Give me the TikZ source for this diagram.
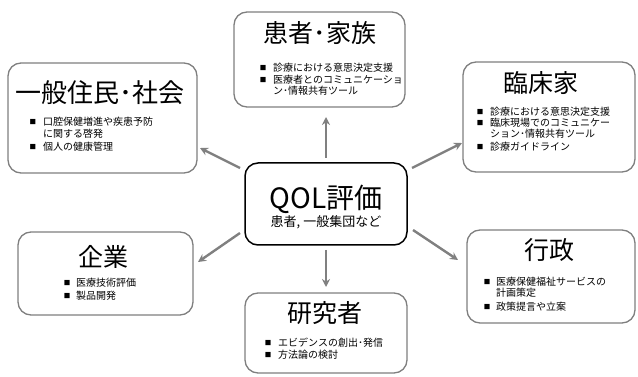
\documentclass[tikz,border=0pt]{standalone}
\usepackage{fontspec}
\setmainfont{Noto Sans CJK JP}
\usetikzlibrary{arrows.meta}
\definecolor{boxgray}{HTML}{7F7F7F}
\definecolor{arrgray}{HTML}{808080}
\tikzset{
  box/.style={draw=boxgray, line width=1.3pt, rounded corners=13pt, fill=white},
  mainbox/.style={draw=black, line width=1.5pt, rounded corners=13pt, fill=white},
  title/.style={inner sep=0pt, font=\fontsize{25}{25}\selectfont},
  item/.style={inner sep=0pt, anchor=west, font=\fontsize{10}{10}\selectfont},
  bul/.style={inner sep=0pt, font=\fontsize{6.5}{6.5}\selectfont},
  arr/.style={draw=arrgray, line width=2.4pt, -{Stealth[length=8pt,width=8pt]}},
}
\begin{document}
\begin{tikzpicture}[x=1pt,y=-1pt]
\useasboundingbox (0,0) rectangle (638,377);
% boxes
\node[box, minimum width=171pt, minimum height=95pt] (fam) at (319.5,59.5) {};
\node[box, minimum width=189pt, minimum height=110pt] (pub) at (102.5,118) {};
\node[box, minimum width=172pt, minimum height=110pt] (cli) at (549,117) {};
\node[mainbox, minimum width=162pt, minimum height=82pt] (qol) at (326,204) {};
\node[box, minimum width=175pt, minimum height=83pt] (ent) at (105.5,273.5) {};
\node[box, minimum width=168pt, minimum height=93pt] (gov) at (551,276.5) {};
\node[box, minimum width=162pt, minimum height=80pt] (res) at (326,333) {};
% titles
\node[title] (famt) at (320,33) {患者･家族};
\node[title, font=\fontsize{26}{26}\selectfont] (pubt) at (100,93) {一般住民･社会};
\node[title] (clit) at (541,83) {臨床家};
\node[title, font=\fontsize{28}{28}\selectfont] (qolt) at (326,199) {QOL評価};
\node[inner sep=0pt, font=\fontsize{13}{13}\selectfont] (qols) at (326,222) {患者, 一般集団など};
\node[title] (entt) at (103,257) {企業};
\node[title] (govt) at (549,250) {行政};
\node[title] (rest) at (325,313) {研究者};
% bullets: family
\node[bul] (fb1) at (263,68) {■};
\node[item] (fi1) at (273,68) {診療における意思決定支援};
\node[bul] (fb2) at (263,80) {■};
\node[item] (fi2) at (273,80) {医療者とのコミュニケーショ};
\node[item] (fi3) at (273,91) {ン･情報共有ツール};
% public
\node[bul] (pb1) at (33,122) {■};
\node[item] (pi1) at (43,122) {口腔保健増進や疾患予防};
\node[item] (pi2) at (43,134) {に関する啓発};
\node[bul] (pb2) at (33,147) {■};
\node[item] (pi3) at (43,147) {個人の健康管理};
% clinicians
\node[bul] (cb1) at (480,112) {■};
\node[item] (ci1) at (490,112) {診療における意思決定支援};
\node[bul] (cb2) at (480,123) {■};
\node[item] (ci2) at (490,123) {臨床現場でのコミュニケー};
\node[item] (ci3) at (490,134) {ション･情報共有ツール};
\node[bul] (cb3) at (480,147) {■};
\node[item] (ci4) at (490,147) {診療ガイドライン};
% enterprise
\node[bul] (eb1) at (67,283) {■};
\node[item] (ei1) at (76,283) {医療技術評価};
\node[bul] (eb2) at (67,296) {■};
\node[item] (ei2) at (76,296) {製品開発};
% government
\node[bul] (gb1) at (487,282) {■};
\node[item] (gi1) at (496,282) {医療保健福祉サービスの};
\node[item] (gi2) at (496,293) {計画策定};
\node[bul] (gb2) at (487,307) {■};
\node[item] (gi3) at (496,307) {政策提言や立案};
% researchers
\node[bul] (rb1) at (268,343) {■};
\node[item] (ri1) at (278,343) {エビデンスの創出･発信};
\node[bul] (rb2) at (268,355) {■};
\node[item] (ri2) at (278,355) {方法論の検討};
% arrow ends
\coordinate (a1s) at (240,168); \coordinate (a1e) at (200,148);
\coordinate (a2s) at (412,168); \coordinate (a2e) at (462,143);
\coordinate (a3s) at (240,233); \coordinate (a3e) at (198,262);
\coordinate (a4s) at (413,230); \coordinate (a4e) at (458,260);
\coordinate (a5s) at (326,158); \coordinate (a5e) at (326,117);
\coordinate (a6s) at (326,250); \coordinate (a6e) at (326,287);
\draw[arr] (a1s) -- (a1e);
\draw[arr] (a2s) -- (a2e);
\draw[arr] (a3s) -- (a3e);
\draw[arr] (a4s) -- (a4e);
\draw[arr] (a5s) -- (a5e);
\draw[arr] (a6s) -- (a6e);
\end{tikzpicture}
\end{document}
